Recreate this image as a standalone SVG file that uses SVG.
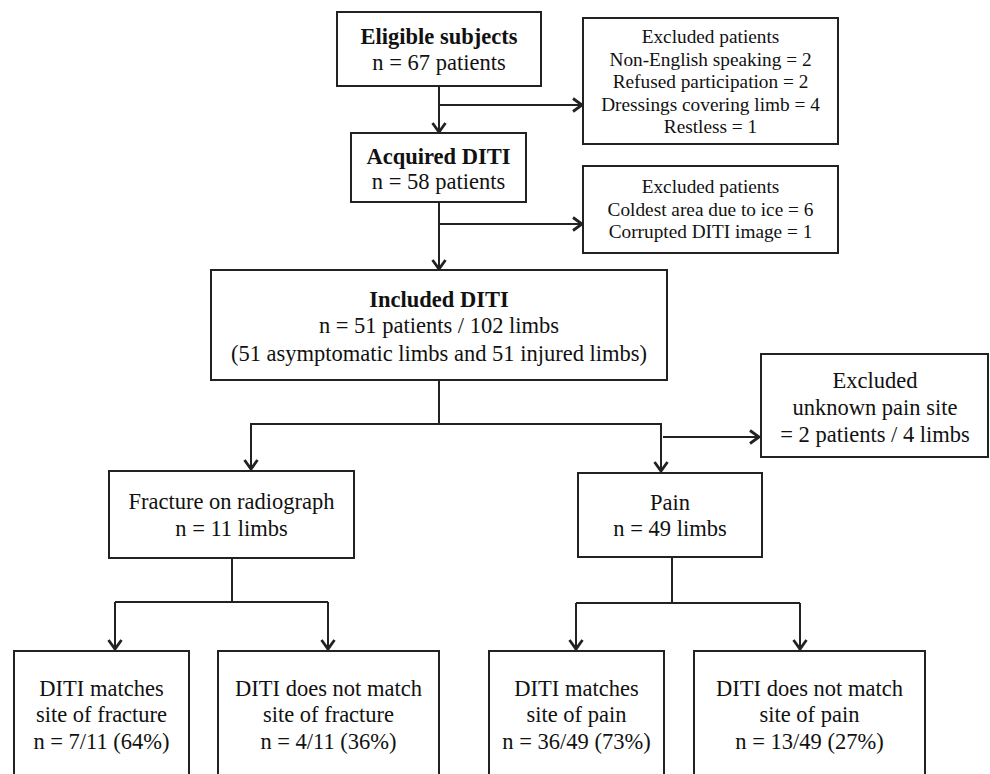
<svg xmlns="http://www.w3.org/2000/svg" width="990" height="774" viewBox="0 0 990 774">
<style>
.box{fill:#fff;stroke:#222;stroke-width:2}
.t{font-family:"Liberation Serif","Times New Roman",serif;font-size:22.5px;fill:#111;text-anchor:middle}
.s{font-family:"Liberation Serif","Times New Roman",serif;font-size:19.3px;fill:#111;text-anchor:middle}
.b{font-weight:bold}
.c{fill:none;stroke:#222;stroke-width:2}
</style>
<defs>
<marker id="ah" markerUnits="userSpaceOnUse" markerWidth="14" markerHeight="16" refX="11" refY="8" orient="auto" viewBox="0 0 14 16">
<path d="M2,1.5 L11,8 L2,14.5" fill="none" stroke="#222" stroke-width="2.8"/>
</marker>
</defs>
<rect width="990" height="774" fill="#fff"/>
<g id="connectors">
<line class="c" x1="439" y1="86" x2="439" y2="132" marker-end="url(#ah)"/>
<line class="c" x1="439" y1="105" x2="582" y2="105" marker-end="url(#ah)"/>
<line class="c" x1="439" y1="202" x2="439" y2="269" marker-end="url(#ah)"/>
<line class="c" x1="439" y1="224" x2="582" y2="224" marker-end="url(#ah)"/>
<polyline class="c" points="439,380 439,424"/>
<polyline class="c" points="251,469 251,424 661,424 661,471" marker-end="url(#ah)"/>
<line class="c" x1="251" y1="424" x2="251" y2="469" marker-end="url(#ah)"/>
<line class="c" x1="663" y1="437" x2="759" y2="437" marker-end="url(#ah)"/>
<polyline class="c" points="232,558 232,602"/>
<polyline class="c" points="115,602 328,602"/>
<line class="c" x1="115" y1="602" x2="115" y2="649" marker-end="url(#ah)"/>
<line class="c" x1="328" y1="602" x2="328" y2="649" marker-end="url(#ah)"/>
<polyline class="c" points="672,557 672,603"/>
<polyline class="c" points="576,603 800,603"/>
<line class="c" x1="576" y1="603" x2="576" y2="649" marker-end="url(#ah)"/>
<line class="c" x1="800" y1="603" x2="800" y2="649" marker-end="url(#ah)"/>
</g>
<g id="eligible">
<rect class="box" x="337" y="12" width="204" height="74"/>
<text class="t b" x="439" y="44">Eligible subjects</text>
<text class="t" x="439" y="70">n = 67 patients</text>
</g>
<g id="excluded1">
<rect class="box" x="583" y="18" width="255" height="126"/>
<text class="s" x="710.5" y="43">Excluded patients</text>
<text class="s" x="710.5" y="65.5">Non-English speaking = 2</text>
<text class="s" x="710.5" y="88">Refused participation = 2</text>
<text class="s" x="710.5" y="110.5">Dressings covering limb = 4</text>
<text class="s" x="710.5" y="133">Restless = 1</text>
</g>
<g id="acquired">
<rect class="box" x="351" y="133" width="175" height="69"/>
<text class="t b" x="438.5" y="164">Acquired DITI</text>
<text class="t" x="438.5" y="189">n = 58 patients</text>
</g>
<g id="excluded2">
<rect class="box" x="583" y="166" width="255" height="87"/>
<text class="s" x="710.5" y="193">Excluded patients</text>
<text class="s" x="710.5" y="216">Coldest area due to ice = 6</text>
<text class="s" x="710.5" y="238">Corrupted DITI image = 1</text>
</g>
<g id="included">
<rect class="box" x="211" y="270" width="456" height="110"/>
<text class="t b" x="439" y="307">Included DITI</text>
<text class="t" x="439" y="333">n = 51 patients / 102 limbs</text>
<text class="t" x="439" y="361">(51 asymptomatic limbs and 51 injured limbs)</text>
</g>
<g id="excluded3">
<rect class="box" x="761" y="354" width="227" height="103"/>
<text class="t" x="875" y="388">Excluded</text>
<text class="t" x="875" y="415">unknown pain site</text>
<text class="t" x="875" y="442">= 2 patients / 4 limbs</text>
</g>
<g id="fracture">
<rect class="box" x="109" y="471" width="245" height="87"/>
<text class="t" x="231.5" y="509">Fracture on radiograph</text>
<text class="t" x="231.5" y="536">n = 11 limbs</text>
</g>
<g id="pain">
<rect class="box" x="578" y="473" width="184" height="84"/>
<text class="t" x="670" y="510">Pain</text>
<text class="t" x="670" y="536">n = 49 limbs</text>
</g>
<g id="frac-match">
<rect class="box" x="14" y="651" width="175" height="150"/>
<text class="t" x="101.5" y="696">DITI matches</text>
<text class="t" x="101.5" y="722">site of fracture</text>
<text class="t" x="101.5" y="749">n = 7/11 (64%)</text>
</g>
<g id="frac-nomatch">
<rect class="box" x="218" y="651" width="221" height="150"/>
<text class="t" x="328.5" y="696">DITI does not match</text>
<text class="t" x="328.5" y="722">site of fracture</text>
<text class="t" x="328.5" y="749">n = 4/11 (36%)</text>
</g>
<g id="pain-match">
<rect class="box" x="489" y="651" width="175" height="150"/>
<text class="t" x="576.5" y="696">DITI matches</text>
<text class="t" x="576.5" y="722">site of pain</text>
<text class="t" x="576.5" y="749">n = 36/49 (73%)</text>
</g>
<g id="pain-nomatch">
<rect class="box" x="694" y="651" width="231" height="150"/>
<text class="t" x="809.5" y="696">DITI does not match</text>
<text class="t" x="809.5" y="722">site of pain</text>
<text class="t" x="809.5" y="749">n = 13/49 (27%)</text>
</g>
</svg>
